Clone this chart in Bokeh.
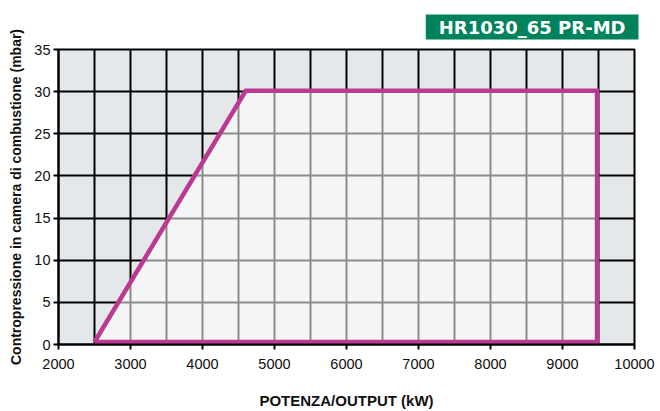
from bokeh.plotting import figure
from bokeh.models import FixedTicker, Range1d, Title
from bokeh.embed import file_html
from bokeh.resources import INLINE

# Data
x_ticks = [2000, 3000, 4000, 5000, 6000, 7000, 8000, 9000, 10000]
x_grid = [2000, 2500, 3000, 3500, 4000, 4500, 5000, 5500, 6000, 6500, 7000,
          7500, 8000, 8500, 9000, 9500, 10000]
y_ticks = [0, 5, 10, 15, 20, 25, 30, 35]
area_power = [2500, 4600, 9480, 9480, 2500]          # kW
area_pressure = [0.3, 30.1, 30.1, 0.3, 0.3]           # mbar
title_text = "HR1030_65 PR-MD"
x_label = "POTENZA/OUTPUT (kW)"
y_label = "Contropressione in camera di combustione (mbar)"

p = figure(width=660, height=411, output_backend="svg", toolbar_location=None,
           x_range=Range1d(2000, 10000), y_range=Range1d(0, 35),
           min_border_left=58, min_border_right=26, min_border_top=49,
           min_border_bottom=64)
p.background_fill_color = "#e5e8eb"
p.border_fill_color = "white"
p.outline_line_color = "black"
p.outline_line_width = 2

p.xgrid.ticker = FixedTicker(ticks=x_grid)
p.ygrid.ticker = FixedTicker(ticks=y_ticks)
for g in (p.xgrid, p.ygrid):
    g.grid_line_color = "black"
    g.grid_line_width = 2
    g.grid_line_alpha = 1.0

p.xaxis.ticker = FixedTicker(ticks=x_ticks)
p.yaxis.ticker = FixedTicker(ticks=y_ticks)
for ax in (p.xaxis, p.yaxis):
    ax.axis_line_color = "black"
    ax.axis_line_width = 2
    ax.major_tick_line_color = "black"
    ax.major_tick_line_width = 2
    ax.major_tick_out = 5
    ax.major_tick_in = 0
    ax.minor_tick_line_color = None
    ax.major_label_text_font = "Liberation Sans"
    ax.major_label_text_font_size = "14.5px"
    ax.major_label_text_color = "#111111"
    ax.axis_label_text_font = "Liberation Sans"
    ax.axis_label_text_font_style = "bold"
    ax.axis_label_text_color = "#111111"

p.xaxis.major_label_standoff = 9
p.xaxis.axis_label = x_label
p.xaxis.axis_label_text_font_size = "15px"
p.xaxis.axis_label_standoff = 20
p.yaxis.major_label_standoff = 3
p.yaxis.axis_label = y_label
p.yaxis.axis_label_text_font_size = "14px"
p.yaxis.axis_label_standoff = 7

p.patch(area_power, area_pressure, fill_color="white", fill_alpha=0.55,
        line_color=None)
p.line(area_power, area_pressure, line_color="#bb3a91", line_width=4.5,
       line_join="miter")

title = Title(text=title_text, align="right", offset=-4, standoff=20,
              text_color="white", text_font="DejaVu Sans",
              text_font_style="bold", text_font_size="18px",
              text_line_height=1.0,
              background_fill_color="#00835d", padding=(13, 2))
p.add_layout(title, "above")

open("out.html", "w").write(file_html(p, INLINE))
